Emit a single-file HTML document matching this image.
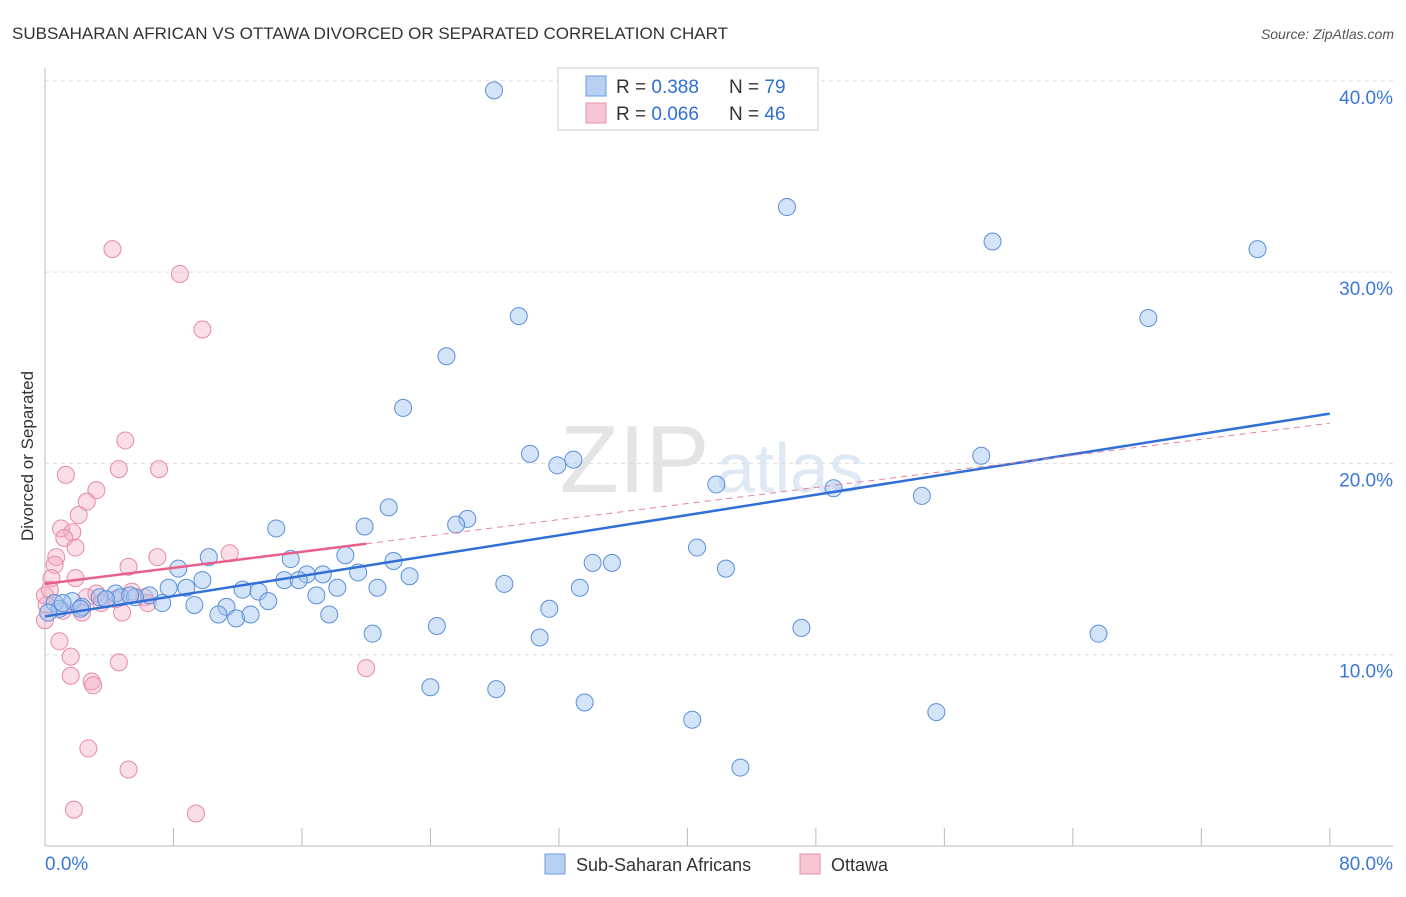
<!DOCTYPE html>
<html><head><meta charset="utf-8"><style>
body{margin:0;background:#fff;font-family:"Liberation Sans",sans-serif;}
svg text{font-family:"Liberation Sans",sans-serif;}
</style></head><body>
<svg id="c" width="1406" height="892">
<text x="12" y="39" font-size="17" fill="#333">SUBSAHARAN AFRICAN VS OTTAWA DIVORCED OR SEPARATED CORRELATION CHART</text>
<text x="1394" y="39" font-size="14" fill="#555" font-style="italic" text-anchor="end">Source: ZipAtlas.com</text>
<text transform="translate(33,456) rotate(-90)" font-size="17" fill="#333" text-anchor="middle">Divorced or Separated</text>
<text x="560" y="492" font-size="96" fill="#e4e4e4" font-family="Liberation Serif">ZIP</text>
<text x="716" y="492" font-size="70" fill="#dfe8f5">atlas</text>
<g id="grid"></g><g id="pts"></g><g id="trend"></g>
<g>
<rect x="558" y="68" width="260" height="62" fill="#fff" stroke="#ccc"/>
<rect x="586" y="76" width="20" height="20" fill="#b7d0f2" stroke="#6b9be0"/>
<rect x="586" y="103" width="20" height="20" fill="#f8c5d5" stroke="#e890ae"/>
<text x="616" y="93" font-size="19" fill="#333">R = <tspan fill="#2f6fd6">0.388</tspan><tspan x="729">N = </tspan><tspan fill="#2f6fd6">79</tspan></text>
<text x="616" y="120" font-size="19" fill="#333">R = <tspan fill="#2f6fd6">0.066</tspan><tspan x="729">N = </tspan><tspan fill="#2f6fd6">46</tspan></text>
</g>
<g>
<rect x="545" y="854" width="20" height="20" fill="#b7d0f2" stroke="#6b9be0"/>
<text x="576" y="871" font-size="18" fill="#333">Sub-Saharan Africans</text>
<rect x="800" y="854" width="20" height="20" fill="#f8c5d5" stroke="#e890ae"/>
<text x="831" y="871" font-size="18" fill="#333">Ottawa</text>
</g>
</svg>
<script>
const blueX=[27.96,46.2,59.0,75.5,29.5,68.7,25.0,22.3,30.2,31.9,32.9,58.3,41.8,49.1,54.6,21.4,26.3,25.6,19.9,14.4,40.6,10.2,15.3,18.7,34.1,35.3,42.4,8.3,21.7,19.5,17.3,16.3,9.8,14.9,22.7,28.6,7.7,8.8,15.8,18.2,20.7,33.3,12.3,13.3,16.9,4.4,4.7,6.5,7.3,9.3,11.3,13.9,3.4,1.7,0.6,0.9,2.3,5.6,31.4,10.8,11.9,12.8,17.7,2.2,24.4,20.4,30.8,47.1,65.6,24.0,28.1,33.6,40.3,55.5,43.3,0.2,1.1,3.8,5.3];
const blueY=[39.5,33.4,31.6,31.2,27.7,27.6,25.6,22.9,20.5,19.9,20.2,20.4,18.9,18.7,18.3,17.7,17.1,16.8,16.7,16.6,15.6,15.1,15.0,15.2,14.8,14.8,14.5,14.5,14.9,14.3,14.2,14.2,13.9,13.9,14.1,13.7,13.5,13.5,13.9,13.5,13.5,13.5,13.4,13.3,13.1,13.2,13.0,13.1,12.7,12.6,12.5,12.8,13.0,12.8,12.7,12.4,12.5,13.0,12.4,12.1,11.9,12.1,12.1,12.4,11.5,11.1,10.9,11.4,11.1,8.3,8.2,7.5,6.6,7.0,4.1,12.2,12.7,12.9,13.1];
const pinkX=[4.2,8.4,9.8,5.0,1.3,4.6,7.1,3.2,2.6,2.1,1.0,1.7,1.2,1.9,0.7,0.6,0.4,1.9,5.2,7.0,11.5,3.2,3.5,6.2,4.8,2.3,0.1,0.9,1.6,4.6,1.6,2.9,3.0,20.0,2.7,5.2,1.8,9.4,0.0,4.4,2.6,5.4,6.4,0.3,1.1,0.0];
const pinkY=[31.2,29.9,27.0,21.2,19.4,19.7,19.7,18.6,18.0,17.3,16.6,16.4,16.1,15.6,15.1,14.7,14.0,14.0,14.6,15.1,15.3,13.2,12.7,13.0,12.2,12.2,12.6,10.7,9.9,9.6,8.9,8.6,8.4,9.3,5.1,4.0,1.9,1.7,13.1,12.9,13.0,13.3,12.7,13.4,12.3,11.8];
const yTicks=[10,20,30,40];
const blueTrend=[12.0,22.6];
const pinkTrend=[13.7,22.1];
const sx=v=>45+v*16.06, sy=v=>846-v*19.13;
const NS='http://www.w3.org/2000/svg';
function mk(t,a,p){const e=document.createElementNS(NS,t);for(const k in a)e.setAttribute(k,a[k]);p.appendChild(e);return e;}
const g=document.getElementById('grid');
yTicks.forEach(t=>{
 const l=mk('line',{x1:45,x2:1393,y1:sy(t),y2:sy(t),stroke:'#ddd','stroke-dasharray':'4,4'},g);
 
 
 const tx=mk('text',{x:1393,y:sy(t)+23,'font-size':19,fill:'#3b78d8','text-anchor':'end'},g);
 tx.textContent=t.toFixed(1)+'%';
 
 
});
const ax=mk('line',{x1:45,x2:45,y1:68,y2:846,stroke:'#bbb'},g);


const bx=mk('line',{x1:45,x2:1393,y1:846,y2:846,stroke:'#bbb'},g);


for(let k=1;k<=10;k++){const t=mk('line',{x1:sx(k*8),x2:sx(k*8),y1:828,y2:846,stroke:'#bbb'},g);
 
 }
[['0.0%',45,'start'],['80.0%',1393,'end']].forEach(([s,x,a])=>{const t=mk('text',{x:x,y:870,'font-size':19,fill:'#3b78d8','text-anchor':a},g);t.textContent=s;
 
 });
const P=document.getElementById('pts');
pinkX.forEach((x,i)=>{const c=mk('circle',{cx:sx(x),cy:sy(pinkY[i]),r:8.5,fill:'rgba(245,170,195,0.4)',stroke:'#e58aa8','stroke-width':1},P);
 
 });
blueX.forEach((x,i)=>{const c=mk('circle',{cx:sx(x),cy:sy(blueY[i]),r:8.5,fill:'rgba(160,196,240,0.45)',stroke:'#5b8fd9','stroke-width':1},P);
 
 });
const T=document.getElementById('trend');
const pAt=x=>pinkTrend[0]+(pinkTrend[1]-pinkTrend[0])*x/80;
const l1=mk('line',{x1:sx(0),y1:sy(blueTrend[0]),x2:sx(80),y2:sy(blueTrend[1]),stroke:'#2f6fd6','stroke-width':2.5},T);


const l2=mk('line',{x1:sx(0),y1:sy(pAt(0)),x2:sx(20),y2:sy(pAt(20)),stroke:'#e8608a','stroke-width':2.5},T);


const l3=mk('line',{x1:sx(20),y1:sy(pAt(20)),x2:sx(80),y2:sy(pAt(80)),stroke:'#e8809f','stroke-width':1,'stroke-dasharray':'6,5'},T);


</script>
</body></html>
